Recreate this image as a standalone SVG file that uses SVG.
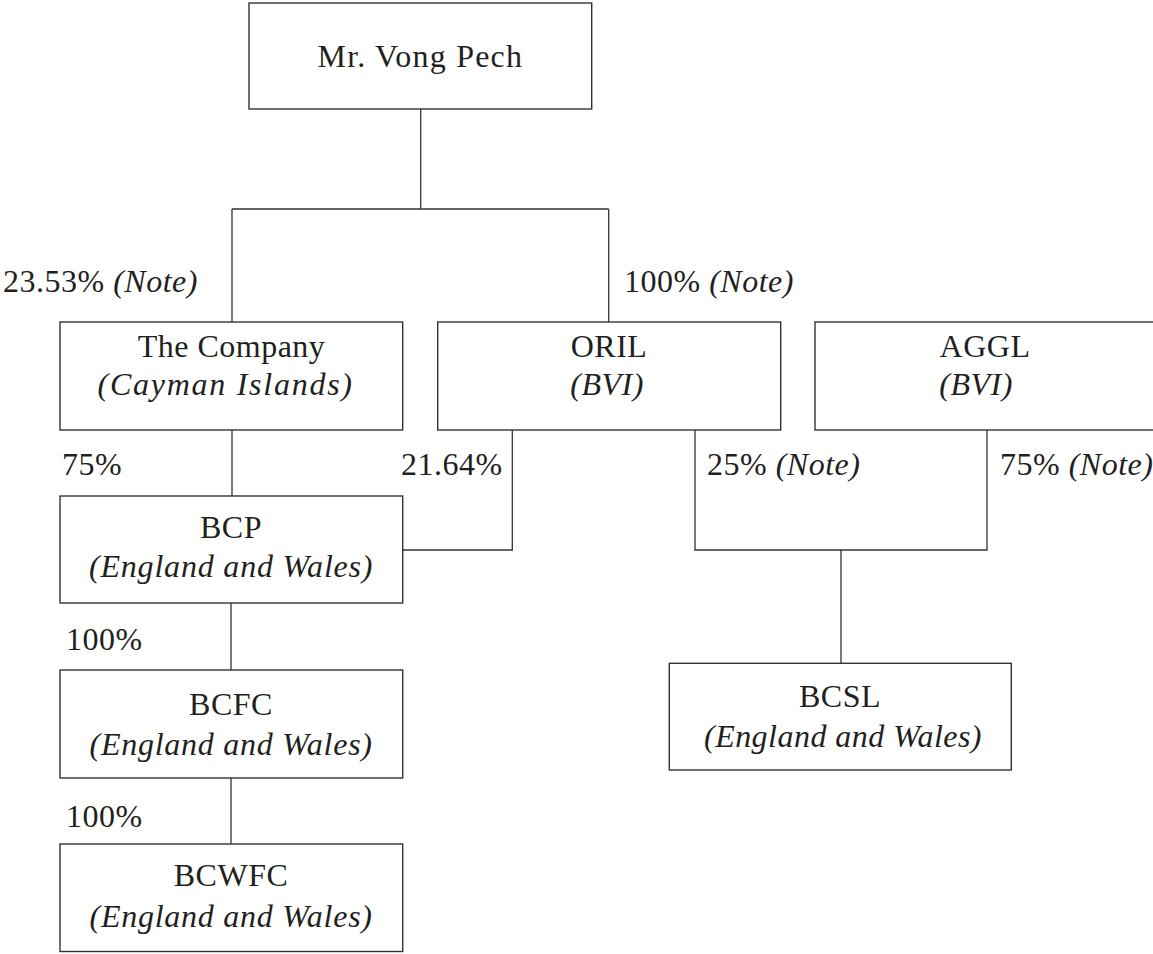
<svg xmlns="http://www.w3.org/2000/svg" width="1153" height="954" viewBox="0 0 1153 954">
<style>
.box{fill:#fff;stroke:#333;stroke-width:1.4}
.ln{fill:none;stroke:#333;stroke-width:1.3}
text{font-family:"Liberation Serif","Times New Roman",serif;font-size:32px;fill:#231f20;letter-spacing:0.5px}
.c{text-anchor:middle}
.i{font-style:italic}
</style>
<rect width="1153" height="954" fill="#fff"/>
<g id="connectors">
<path class="ln" d="M420.7,109 V209 M232,209 H608.7 M232,209 V322 M608.7,209 V322"/>
<path class="ln" d="M232,430 V496"/>
<path class="ln" d="M512.3,430 V550 H402.7"/>
<path class="ln" d="M695,430 V550 H987 V430 M841,550 V663"/>
<path class="ln" d="M231,603 V670 M231,778 V844"/>
</g>
<g id="labels">
<text x="3" y="292">23.53% <tspan class="i">(Note)</tspan></text>
<text x="624" y="292">100% <tspan class="i">(Note)</tspan></text>
<text x="62" y="475">75%</text>
<text x="401" y="475">21.64%</text>
<text x="707" y="475">25% <tspan class="i">(Note)</tspan></text>
<text x="1000" y="475">75% <tspan class="i">(Note)</tspan></text>
<text x="66" y="650">100%</text>
<text x="66" y="827">100%</text>
</g>
<g id="node-vong-pech">
<rect class="box" x="249" y="3" width="342.7" height="106"/>
<text class="c" x="420" y="67" textLength="205">Mr. Vong Pech</text>
</g>
<g id="node-company">
<rect class="box" x="60" y="322" width="342.7" height="108"/>
<text class="c" x="231.5" y="357">The Company</text>
<text class="c i" x="225" y="395" textLength="255">(Cayman Islands)</text>
</g>
<g id="node-oril">
<rect class="box" x="437.7" y="322" width="343" height="108"/>
<text class="c" x="609" y="357">ORIL</text>
<text class="c i" x="607" y="395">(BVI)</text>
</g>
<g id="node-aggl">
<rect class="box" x="815" y="322" width="345" height="108"/>
<text class="c" x="985" y="357">AGGL</text>
<text class="c i" x="976" y="395">(BVI)</text>
</g>
<g id="node-bcp">
<rect class="box" x="60" y="496" width="342.7" height="107"/>
<text class="c" x="231" y="538">BCP</text>
<text class="c i" x="231" y="577" textLength="284">(England and Wales)</text>
</g>
<g id="node-bcfc">
<rect class="box" x="60" y="670" width="342.7" height="108"/>
<text class="c" x="231" y="715">BCFC</text>
<text class="c i" x="231" y="755" textLength="283">(England and Wales)</text>
</g>
<g id="node-bcwfc">
<rect class="box" x="60" y="844" width="342.7" height="107.5"/>
<text class="c" x="231" y="886">BCWFC</text>
<text class="c i" x="231" y="926.5" textLength="283">(England and Wales)</text>
</g>
<g id="node-bcsl">
<rect class="box" x="669.3" y="663.3" width="342" height="106.7"/>
<text class="c" x="840" y="706.5">BCSL</text>
<text class="c i" x="843" y="746.5" textLength="278">(England and Wales)</text>
</g>
</svg>
